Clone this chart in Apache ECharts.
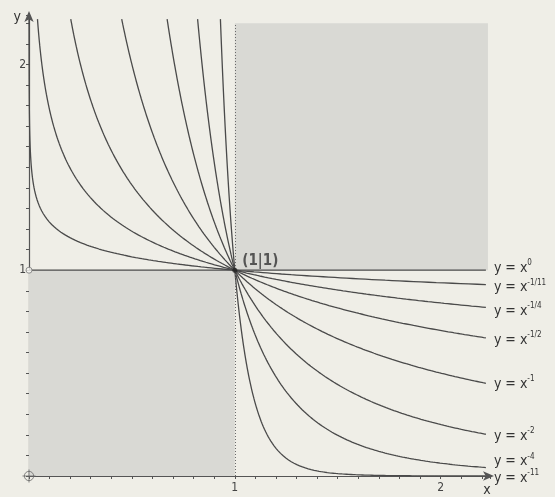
<!DOCTYPE html>
<html>
<head>
<meta charset="utf-8">
<script src="https://cdn.jsdelivr.net/npm/echarts@6/dist/echarts.min.js"></script>
<style>
  html, body { margin: 0; padding: 0; background: #efeee7; }
  #chart { width: 555px; height: 497px; }
</style>
</head>
<body>
<div id="chart"></div>
<script>
// Power functions y = x^(-n) for positive x
const exponents = [0, 1 / 11, 1 / 4, 1 / 2, 1, 2, 4, 11];
const powerLabels = ['0', '-1/11', '-1/4', '-1/2', '-1', '-2', '-4', '-11'];
const labelOffsets = [[0, -2], [0, 3], [0, 4], [0, 2], [0, 1], [0, 2], [0, -6], [0, 2]];
const tickLabels = { 1: '1', 2: '2' };
const axisMax = 2.24;
const plotEnd = 2.22;      // curves are drawn up to this x / y
const shadeEndX = 2.23;    // extent of the shaded squares
const shadeEndY = 2.2;
const commonPoint = [1, 1];
const openPoints = [[0, 1]];
const originPoint = [0, 0];

const ink = '#4a4a4a';
const axisInk = '#555';
const textInk = '#333';

// sample y = x^(-n) on a log-spaced grid between where it leaves the top and plotEnd
function curve(n) {
  if (n === 0) return [[0, 1], [plotEnd, 1]];
  const xs = Math.pow(plotEnd, -1 / n);
  const pts = [];
  const steps = 500;
  for (let i = 0; i <= steps; i++) {
    const x = xs * Math.pow(plotEnd / xs, i / steps);
    pts.push([x, Math.pow(x, -n)]);
  }
  return pts;
}

const labelFont = 'DejaVu Sans Condensed';

const lineSeries = exponents.map((n, i) => ({
  type: 'line',
  data: curve(n),
  showSymbol: false,
  silent: true,
  clip: false,
  lineStyle: { color: ink, width: 1.3 },
  z: 3,
  endLabel: {
    show: true,
    distance: 8,
    offset: labelOffsets[i],
    formatter: '{b|y = x}{s|' + powerLabels[i] + '}',
    rich: {
      b: { fontFamily: labelFont, fontSize: 14, color: textInk },
      s: { fontFamily: labelFont, fontSize: 8, color: textInk, padding: [0, 0, 10, 0] }
    }
  }
}));

const tickFmt = v => {
  for (const k in tickLabels) if (Math.abs(v - Number(k)) < 1e-6) return tickLabels[k];
  return '';
};

const option = {
  backgroundColor: '#efeee7',
  animation: false,
  grid: { left: 29, right: 65, top: 15, bottom: 21, containLabel: false },
  xAxis: {
    type: 'value', min: 0, max: axisMax, interval: 0.1,
    name: 'x', nameLocation: 'end', nameGap: -3,
    nameTextStyle: { color: textInk, fontSize: 14, fontFamily: labelFont, align: 'center', verticalAlign: 'top', padding: [7, 0, 0, 0] },
    axisLine: { lineStyle: { color: axisInk, width: 1.2 }, symbol: ['none', 'arrow'], symbolSize: [7, 11], symbolOffset: [0, 4] },
    axisTick: { length: 3, lineStyle: { color: axisInk } },
    axisLabel: { formatter: tickFmt, color: '#444', fontSize: 12, fontFamily: labelFont, margin: 6 },
    splitLine: { show: false }
  },
  yAxis: {
    type: 'value', min: 0, max: axisMax, interval: 0.1,
    name: 'y', nameLocation: 'end', nameGap: -2,
    nameTextStyle: { color: textInk, fontSize: 14, fontFamily: labelFont, align: 'right', verticalAlign: 'middle', padding: [0, 8, 0, 0] },
    axisLine: { lineStyle: { color: axisInk, width: 1.2 }, symbol: ['none', 'arrow'], symbolSize: [7, 11], symbolOffset: [0, 4] },
    axisTick: { length: 3, lineStyle: { color: axisInk } },
    axisLabel: { formatter: tickFmt, color: '#444', fontSize: 12, fontFamily: labelFont, margin: 3 },
    splitLine: { show: false }
  },
  series: [
    {
      type: 'line', data: [], silent: true,
      markArea: {
        silent: true,
        itemStyle: { color: '#d9d9d4' },
        data: [
          [{ coord: [0, 0] }, { coord: [1, 1] }],
          [{ coord: [1, 1] }, { coord: [shadeEndX, shadeEndY] }]
        ]
      },
      markLine: {
        silent: true, symbol: 'none', label: { show: false },
        lineStyle: { color: '#6a6a6a', type: [1, 2], width: 1 },
        data: [[{ coord: [1, 0] }, { coord: [1, shadeEndY] }]]
      },
      z: 1
    },
    ...lineSeries,
    {
      type: 'scatter', data: [commonPoint], symbolSize: 5, silent: true, z: 5,
      itemStyle: { color: '#222' },
      label: {
        show: true, position: 'right', offset: [0, -9],
        formatter: '(1|1)', fontFamily: labelFont, fontSize: 15, fontWeight: 'bold', color: textInk
      }
    },
    {
      type: 'scatter', data: openPoints, symbol: 'circle', symbolSize: 6, silent: true, z: 5,
      itemStyle: { color: '#f6f6f2', borderColor: '#777', borderWidth: 1 }
    },
    {
      type: 'scatter', data: [originPoint], silent: true, z: 5,
      symbol: 'path://M10,0 A10,10 0 1 1 9.99,0 Z M10,-4 L10,24 M-4,10 L24,10',
      symbolSize: 13,
      itemStyle: { color: 'none', borderColor: '#666', borderWidth: 1 }
    }
  ]
};

echarts.init(document.getElementById('chart'), null, { renderer: 'canvas' }).setOption(option);
</script>
</body>
</html>
